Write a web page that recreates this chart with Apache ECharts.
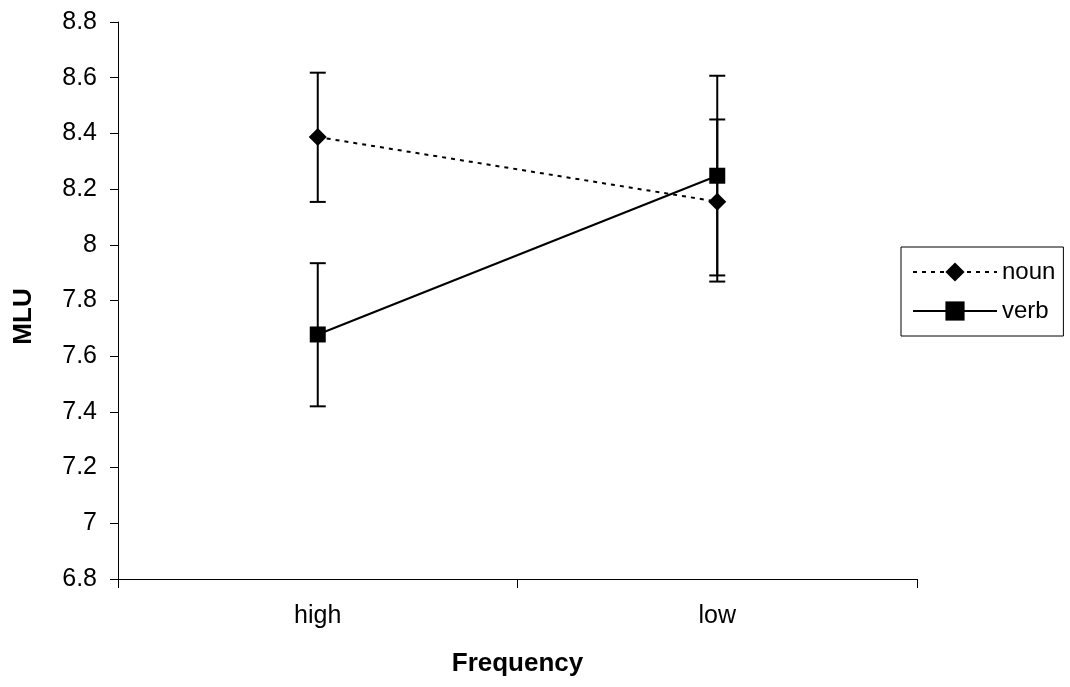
<!DOCTYPE html>
<html>
<head>
<meta charset="utf-8">
<script src="https://cdn.jsdelivr.net/npm/echarts@6/dist/echarts.min.js"></script>
<style>html,body{margin:0;padding:0;background:#fff}#c{width:1070px;height:687px}</style>
</head>
<body>
<div id="c"></div>
<script>
var categories = ['high', 'low'];
var nounValues = [8.387, 8.155];
var nounErrLow = [8.154, 7.868];
var nounErrHigh = [8.618, 8.450];
var verbValues = [7.678, 8.248];
var verbErrLow = [7.420, 7.890];
var verbErrHigh = [7.934, 8.607];
var yTicks = [6.8, 7, 7.2, 7.4, 7.6, 7.8, 8, 8.2, 8.4, 8.6, 8.8];

var chart = echarts.init(document.getElementById('c'));
function errData(lo, hi) {
  return categories.map(function (c, i) { return [i, lo[i], hi[i]]; });
}
function renderErr(params, api) {
  var x = api.value(0);
  var lo = api.coord([x, api.value(1)]);
  var hi = api.coord([x, api.value(2)]);
  var w = 8;
  var st = { stroke: '#000', lineWidth: 2 };
  return {
    type: 'group',
    children: [
      { type: 'line', shape: { x1: hi[0], y1: hi[1], x2: lo[0], y2: lo[1] }, style: st },
      { type: 'line', shape: { x1: hi[0] - w, y1: hi[1], x2: hi[0] + w, y2: hi[1] }, style: st },
      { type: 'line', shape: { x1: lo[0] - w, y1: lo[1], x2: lo[0] + w, y2: lo[1] }, style: st }
    ]
  };
}
var font = 'Liberation Sans, Arial, sans-serif';
chart.setOption({
  animation: false,
  backgroundColor: '#fff',
  grid: { left: 118, right: 153, top: 22, bottom: 108 },
  legend: {
    orient: 'vertical',
    left: 901,
    top: 247,
    itemWidth: 84,
    itemHeight: 24,
    itemGap: 13,
    padding: [12, 8, 12, 11],
    borderColor: '#000',
    borderWidth: 1,
    textStyle: { fontFamily: font, fontSize: 24, lineHeight: 26, color: '#000' },
    data: ['noun', 'verb']
  },
  xAxis: {
    type: 'category',
    data: categories,
    boundaryGap: true,
    name: 'Frequency',
    nameLocation: 'middle',
    nameGap: 72,
    nameTextStyle: { fontFamily: font, fontSize: 26, fontWeight: 'bold', color: '#000' },
    axisLine: { lineStyle: { color: '#000', width: 1 } },
    axisTick: { show: true, length: 9, lineStyle: { color: '#000' } },
    axisLabel: { fontFamily: font, fontSize: 25, color: '#000', margin: 25 },
    splitLine: { show: false }
  },
  yAxis: {
    type: 'value',
    min: 6.8,
    max: 8.8,
    interval: 0.2,
    name: 'MLU',
    nameLocation: 'middle',
    nameGap: 81,
    nameRotate: 90,
    nameTextStyle: { fontFamily: font, fontSize: 26, fontWeight: 'bold', color: '#000', padding: [0, 32, 0, 0] },
    axisLine: { show: true, lineStyle: { color: '#000', width: 1 } },
    axisTick: { show: true, length: 8, lineStyle: { color: '#000' } },
    axisLabel: {
      fontFamily: font, fontSize: 25, color: '#000', margin: 21,
      formatter: function (v) {
        var r = Math.round(v * 10) / 10;
        for (var i = 0; i < yTicks.length; i++) if (Math.abs(yTicks[i] - r) < 1e-6) return String(yTicks[i]);
        return '';
      }
    },
    splitLine: { show: false }
  },
  series: [
    {
      type: 'custom', name: 'nounErr', renderItem: renderErr, data: errData(nounErrLow, nounErrHigh),
      encode: { x: 0, y: [1, 2] }, z: 1, silent: true
    },
    {
      type: 'custom', name: 'verbErr', renderItem: renderErr, data: errData(verbErrLow, verbErrHigh),
      encode: { x: 0, y: [1, 2] }, z: 1, silent: true
    },
    {
      type: 'line', name: 'noun', data: nounValues, z: 3,
      symbol: 'diamond', symbolSize: 18,
      lineStyle: { color: '#000', width: 2, type: [4, 5] },
      itemStyle: { color: '#000' }
    },
    {
      type: 'line', name: 'verb', data: verbValues, z: 3,
      symbol: 'rect', symbolSize: 16,
      lineStyle: { color: '#000', width: 2, type: 'solid' },
      itemStyle: { color: '#000' }
    }
  ]
});
</script>
</body>
</html>
